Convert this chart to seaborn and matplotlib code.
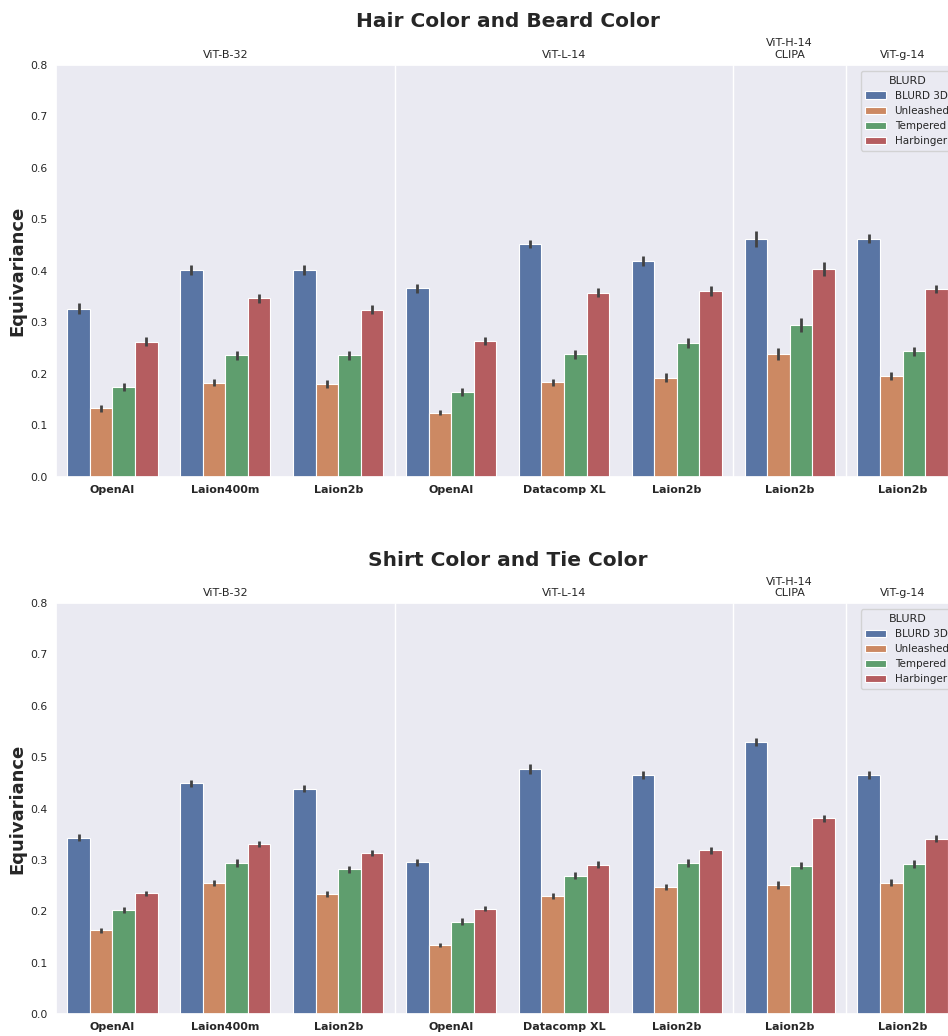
import pandas as pd
import matplotlib
matplotlib.use("Agg")
import matplotlib.pyplot as plt
import matplotlib.transforms as mtransforms
import seaborn as sns

# modelli e dataset (asse x)
models = ["ViT-B-32", "ViT-B-32", "ViT-B-32", "ViT-L-14", "ViT-L-14", "ViT-L-14",
          "ViT-H-14\nCLIPA", "ViT-g-14"]
datasets = ["OpenAI", "Laion400m", "Laion2b", "OpenAI", "Datacomp XL", "Laion2b",
            "Laion2b", "Laion2b"]
methods = ["BLURD 3D", "Unleashed", "Tempered", "Harbinger"]

# valori (una lista per metodo)
hair_mean = {
    "BLURD 3D": [0.327, 0.402, 0.402, 0.366, 0.452, 0.419, 0.462, 0.463],
    "Unleashed": [0.133, 0.183, 0.180, 0.125, 0.184, 0.193, 0.239, 0.196],
    "Tempered": [0.174, 0.236, 0.236, 0.165, 0.238, 0.260, 0.295, 0.244],
    "Harbinger": [0.263, 0.347, 0.325, 0.264, 0.358, 0.361, 0.404, 0.365],
}
hair_err = {
    "BLURD 3D": [0.010, 0.010, 0.010, 0.008, 0.008, 0.010, 0.016, 0.009],
    "Unleashed": [0.006, 0.007, 0.008, 0.005, 0.007, 0.008, 0.011, 0.007],
    "Tempered": [0.008, 0.009, 0.009, 0.007, 0.009, 0.009, 0.014, 0.009],
    "Harbinger": [0.008, 0.009, 0.009, 0.007, 0.008, 0.009, 0.013, 0.008],
}
shirt_mean = {
    "BLURD 3D": [0.343, 0.449, 0.439, 0.295, 0.477, 0.466, 0.530, 0.466],
    "Unleashed": [0.163, 0.255, 0.234, 0.134, 0.229, 0.247, 0.251, 0.256],
    "Tempered": [0.203, 0.294, 0.282, 0.180, 0.269, 0.294, 0.289, 0.292],
    "Harbinger": [0.235, 0.331, 0.314, 0.205, 0.291, 0.319, 0.381, 0.341],
}
shirt_err = {
    "BLURD 3D": [0.007, 0.007, 0.007, 0.007, 0.009, 0.008, 0.008, 0.008],
    "Unleashed": [0.005, 0.006, 0.006, 0.004, 0.006, 0.006, 0.007, 0.006],
    "Tempered": [0.006, 0.008, 0.007, 0.006, 0.007, 0.007, 0.007, 0.007],
    "Harbinger": [0.005, 0.006, 0.006, 0.005, 0.007, 0.007, 0.007, 0.007],
}

sns.set_theme(style="dark")
plt.rcParams['font.family'] = ['DejaVu Sans']

keys = [m + "|" + d for m, d in zip(models, datasets)]


def disegna(ax, titolo, medie, errori):
    righe = []
    for met in methods:
        for k, v in zip(keys, medie[met]):
            righe.append({"key": k, "BLURD": met, "Equivariance": v})
    df = pd.DataFrame(righe)
    sns.barplot(data=df, x="key", y="Equivariance", hue="BLURD", order=keys,
                hue_order=methods, errorbar=None, ax=ax,
                edgecolor="white", linewidth=0.8)
    # barre di errore
    for cont, met in zip(ax.containers, methods):
        for bar, e in zip(cont, errori[met]):
            xc = bar.get_x() + bar.get_width() / 2
            ax.plot([xc, xc], [bar.get_height() - e, bar.get_height() + e],
                    color=".26", lw=2, solid_capstyle="butt")
    ax.set_ylim(0, 0.8)
    ax.set_xlim(-0.5, len(keys) - 0.5)
    ax.set_yticks([i / 10 for i in range(9)])
    ax.set_yticklabels([f"{i / 10:.1f}" for i in range(9)], fontsize=7.8)
    ax.set_xticks(range(len(keys)))
    ax.set_xticklabels(datasets, fontsize=8, fontweight="bold")
    ax.tick_params(axis="both", length=0, pad=6)
    ax.set_xlabel("")
    ax.set_ylabel("Equivariance", fontsize=13, fontweight="bold", labelpad=3)
    ax.set_title(titolo, fontsize=14.5, fontweight="bold", pad=27)
    # separatori tra modelli e etichette di gruppo
    trans = mtransforms.blended_transform_factory(ax.transData, ax.transAxes)
    start = 0
    for i in range(1, len(models) + 1):
        if i == len(models) or models[i] != models[start]:
            centro = (start + i - 1) / 2
            ax.text(centro, 1.012, models[start], transform=trans, ha="center",
                    va="bottom", fontsize=8, linespacing=1.2)
            if i < len(models):
                ax.axvline(i - 0.5, color="white", lw=1.0)
            start = i
    ax.legend(title="BLURD", loc="upper right", fontsize=7.5, title_fontsize=8,
              bbox_to_anchor=(1.0, 0.997))


fig = plt.figure(figsize=(9.48, 10.36), dpi=100)
ax1 = fig.add_axes([0.0591, 0.5396, 0.9525, 0.3977])
ax2 = fig.add_axes([0.0591, 0.0212, 0.9525, 0.3967])
disegna(ax1, "Hair Color and Beard Color", hair_mean, hair_err)
disegna(ax2, "Shirt Color and Tie Color", shirt_mean, shirt_err)

fig.savefig("out.png", dpi=100)
